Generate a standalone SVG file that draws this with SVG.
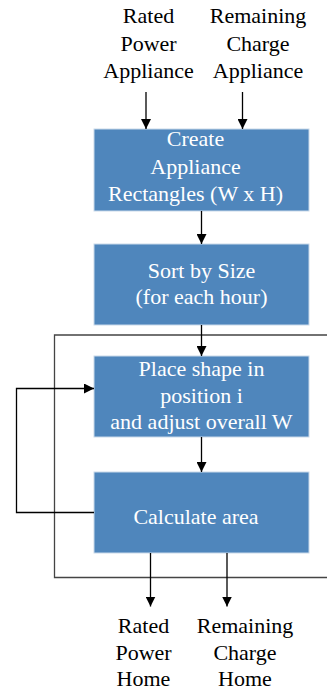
<svg xmlns="http://www.w3.org/2000/svg" width="327" height="691" viewBox="0 0 327 691">
<defs>
<style>
.box{fill:#4f86bc;stroke:#c9d9ea;stroke-width:1}
.bt{font-family:'Liberation Serif','Times New Roman','DejaVu Serif',serif;font-size:22px;fill:#ffffff;text-anchor:middle}
.lt{font-family:'Liberation Serif','Times New Roman','DejaVu Serif',serif;font-size:22px;fill:#000000;text-anchor:middle}
.c{fill:none;stroke:#000;stroke-width:1.3}
.frame{fill:none;stroke:#444;stroke-width:1.3}
</style>
<marker id="ah" viewBox="0 0 10 10" refX="10" refY="5" markerWidth="10" markerHeight="10" markerUnits="userSpaceOnUse" orient="auto">
<path d="M0,0 L10,5 L0,10 z" fill="#000"/>
</marker>
</defs>
<rect width="327" height="691" fill="#fff"/>
<g id="in-rated">
<text class="lt" x="148.5" y="23">Rated</text>
<text class="lt" x="148.5" y="50.5">Power</text>
<text class="lt" x="148.5" y="77.5">Appliance</text>
</g>
<g id="in-remaining">
<text class="lt" x="258" y="23">Remaining</text>
<text class="lt" x="258" y="50.5">Charge</text>
<text class="lt" x="258" y="77.5">Appliance</text>
</g>
<g id="create">
<rect class="box" x="94" y="129" width="215" height="82"/>
<text class="bt" x="195.5" y="146">Create</text>
<text class="bt" x="195.5" y="173.5">Appliance</text>
<text class="bt" x="195.5" y="201">Rectangles (W x H)</text>
</g>
<g id="sort">
<rect class="box" x="94" y="244" width="215" height="81"/>
<text class="bt" x="201.5" y="278">Sort by Size</text>
<text class="bt" x="201.5" y="303.5">(for each hour)</text>
</g>
<g id="place">
<rect class="box" x="94" y="356" width="215" height="81"/>
<text class="bt" x="201.5" y="376">Place shape in</text>
<text class="bt" x="201.5" y="402.5">position i</text>
<text class="bt" x="201.5" y="429">and adjust overall W</text>
</g>
<g id="calc">
<rect class="box" x="94" y="472" width="215" height="81"/>
<text class="bt" x="196" y="524">Calculate area</text>
</g>
<g id="out-rated">
<text class="lt" x="143.5" y="633">Rated</text>
<text class="lt" x="143.5" y="659.5">Power</text>
<text class="lt" x="143.5" y="686">Home</text>
</g>
<g id="out-remaining">
<text class="lt" x="245" y="633">Remaining</text>
<text class="lt" x="245" y="659.5">Charge</text>
<text class="lt" x="245" y="686">Home</text>
</g>
<g id="loop-frame">
<path class="frame" d="M330,335 H54.5 V577.5 H330"/>
</g>
<g id="connectors">
<path class="c" d="M146,92 V129" marker-end="url(#ah)"/>
<path class="c" d="M242.5,92 V129" marker-end="url(#ah)"/>
<path class="c" d="M201.5,211 V244" marker-end="url(#ah)"/>
<path class="c" d="M201.5,325 V356" marker-end="url(#ah)"/>
<path class="c" d="M201.5,437 V472" marker-end="url(#ah)"/>
<path class="c" d="M94,512.5 H16.5 V388.5 H94" marker-end="url(#ah)"/>
<path class="c" d="M150.5,553 V606.5" marker-end="url(#ah)"/>
<path class="c" d="M227,553 V606.5" marker-end="url(#ah)"/>
</g>
</svg>
